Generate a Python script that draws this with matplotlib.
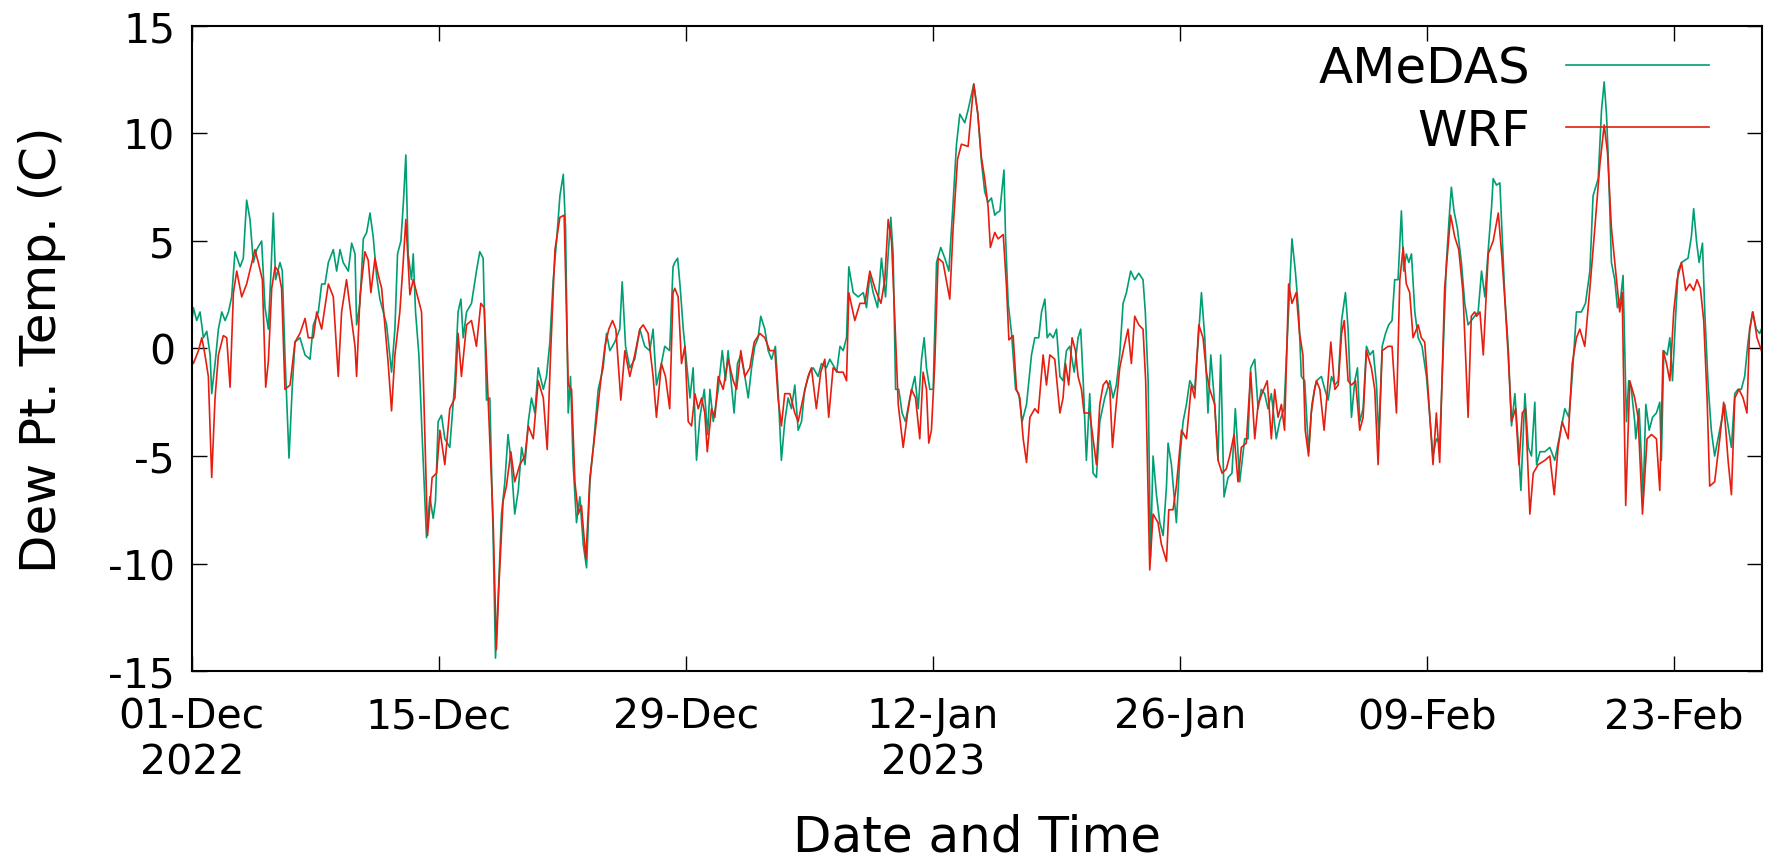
import numpy as np
import pandas as pd
import matplotlib
matplotlib.use("Agg")
import matplotlib.pyplot as plt

# === Données (jours depuis le 01-Dec-2022 00:00, point de rosée en °C) ===
START = pd.Timestamp("2022-12-01 00:00")
END_DAYS = 88.958  # dernier pas horaire : 27-Feb 23:00

amedas_day = [
    0.00, 0.09, 0.28, 0.47, 0.66, 0.85, 1.04, 1.13, 1.32, 1.51, 1.70, 1.89, 2.08, 2.26, 2.45, 2.74, 2.92, 3.11, 3.30, 3.49, 3.68, 3.96, 4.15, 4.34, 4.49, 4.62, 4.75, 5.00, 5.13, 5.28, 5.51, 5.70, 5.85, 6.13, 6.42, 6.70, 6.89, 7.17, 7.36, 7.55, 7.74, 8.02, 8.21, 8.40, 8.58, 8.87, 9.06, 9.25,
    9.34, 9.53, 9.72, 9.91, 10.10, 10.28, 10.47, 10.66, 10.85, 11.04, 11.32, 11.51, 11.66, 11.85, 12.00, 12.13, 12.26, 12.45, 12.55, 12.68, 12.87, 13.06, 13.30, 13.49, 13.68, 13.81, 13.96, 14.15, 14.34, 14.62, 14.91, 15.09, 15.25, 15.38, 15.57, 15.85, 16.13, 16.32, 16.51, 16.70, 16.89, 17.08, 17.21, 17.36, 17.55, 17.74, 17.92, 18.11, 18.30,
    18.50, 18.69, 18.88, 19.07, 19.25, 19.44, 19.63, 19.92, 20.10, 20.29, 20.48, 20.67, 20.86, 21.05, 21.18, 21.33, 21.46, 21.61, 21.80, 21.99, 22.18, 22.37, 22.56, 22.75, 23.03, 23.31, 23.50, 23.69, 23.97, 24.25, 24.39, 24.58, 24.82, 25.10, 25.39, 25.67, 25.95, 26.14, 26.33, 26.61, 26.80, 27.08, 27.27, 27.37,
    27.53, 27.66, 27.85, 28.04, 28.23, 28.41, 28.60, 28.79, 29.04, 29.23, 29.36, 29.55, 29.83, 30.06, 30.24, 30.39, 30.58, 30.73, 30.92, 31.11, 31.34, 31.53, 31.72, 31.90, 32.09, 32.24, 32.47, 32.66, 32.85, 33.07, 33.22, 33.41, 33.60, 33.79, 33.98, 34.17, 34.36, 34.55, 34.73, 35.02, 35.21, 35.49, 35.68, 35.96, 36.15, 36.43,
    36.54, 36.73, 36.91, 37.10, 37.23, 37.48, 37.76, 38.05, 38.23, 38.42, 38.61, 38.86, 39.08, 39.31, 39.46, 39.61, 39.74, 39.88, 40.06, 40.25, 40.44, 40.69, 40.97, 41.16, 41.35, 41.50, 41.63, 41.82, 42.01, 42.20, 42.44, 42.67, 42.90, 43.14, 43.33, 43.52, 43.80, 43.99, 44.31, 44.54, 44.74, 44.93, 45.12, 45.31, 45.50,
    45.60, 45.79, 46.02, 46.11, 46.26, 46.45, 46.68, 46.86, 47.05, 47.30, 47.58, 47.77, 47.99, 48.15, 48.34, 48.47, 48.62, 48.81, 49.00, 49.19, 49.37, 49.56, 49.75, 50.00, 50.22, 50.37, 50.51, 50.69, 50.88, 51.07, 51.26, 51.45, 51.73, 52.02, 52.20, 52.39, 52.58, 52.77, 52.96, 53.20, 53.43, 53.66, 53.90, 54.03, 54.19, 54.32, 54.47,
    54.66, 54.85, 55.04, 55.23, 55.32, 55.51, 55.79, 55.98, 56.17, 56.36, 56.55, 56.83, 57.02, 57.21, 57.40, 57.58, 57.74, 57.96, 58.15, 58.30, 58.49, 58.72, 58.94, 59.13, 59.38, 59.66, 59.85, 60.00, 60.23, 60.42, 60.60, 60.79, 60.98, 61.17, 61.45, 61.64, 61.89, 62.08, 62.34, 62.53, 62.72, 62.87, 63.06, 63.28, 63.47, 63.62,
    63.73, 64.01, 64.20, 64.39, 64.58, 64.77, 64.96, 65.15, 65.37, 65.52, 65.71, 65.90, 66.05, 66.18, 66.37, 66.56, 66.75, 66.94, 67.13, 67.26, 67.45, 67.64, 67.82, 68.01, 68.16, 68.35, 68.54, 68.67, 68.82, 68.96, 69.11, 69.30, 69.49, 69.71, 69.96, 70.15, 70.33, 70.52, 70.71, 70.90, 71.09, 71.24, 71.37, 71.52, 71.71, 71.94, 72.13, 72.32, 72.50, 72.69,
    72.89, 73.08, 73.27, 73.46, 73.65, 73.74, 73.93, 74.12, 74.25, 74.40, 74.59, 74.78, 74.97, 75.16, 75.31, 75.54, 75.73, 75.91, 76.10, 76.20, 76.39, 76.67, 76.95, 77.23, 77.52, 77.80, 78.03, 78.22, 78.46, 78.74, 78.97, 79.22, 79.40, 79.69, 79.88, 80.03, 80.16, 80.25, 80.44, 80.63, 80.78, 80.97, 81.10, 81.29, 81.42, 81.57, 81.76,
    81.82, 82.01, 82.24, 82.39, 82.58, 82.77, 82.99, 83.18, 83.27, 83.41, 83.60, 83.75, 83.90, 84.09, 84.22, 84.41, 84.60, 84.78, 84.97, 85.10, 85.26, 85.41, 85.60, 85.73, 85.92, 86.10, 86.29, 86.48, 86.67, 86.86, 87.05, 87.24, 87.43, 87.61, 87.80, 87.99, 88.18, 88.43, 88.65, 88.84, 88.94,
]
amedas_dpt = [
    1.2, 1.9, 1.3, 1.7, 0.5, 0.8, -0.3, -2.1, -0.7, 0.9, 1.7, 1.3, 1.7, 2.4, 4.5, 3.8, 4.2, 6.9, 6.0, 4.0, 4.6, 5.0, 1.9, 0.9, 3.6, 6.3, 3.2, 4.0, 3.6, -0.3, -5.1, -1.7, 0.3, 0.5, -0.3, -0.5, 1.1, 1.7, 3.0, 3.0, 4.0, 4.6, 3.6, 4.6, 4.0, 3.6, 4.9, 4.4,
    1.1, 2.1, 5.1, 5.4, 6.3, 5.2, 3.4, 2.3, 1.7, 1.1, -1.1, 0.9, 4.4, 5.0, 6.9, 9.0, 4.4, 3.2, 4.4, 1.7, -0.3, -4.2, -8.8, -6.9, -7.9, -7.1, -3.4, -3.1, -4.2, -4.6, -1.5, 1.7, 2.3, 0.5, 1.7, 2.1, 3.6, 4.5, 4.2, -2.4, -2.3, -8.9, -14.4, -11.6, -7.7, -6.2, -4.0, -5.4, -7.7,
    -6.6, -4.6, -5.4, -3.4, -2.3, -3.0, -0.9, -1.9, -1.3, 0.3, 3.2, 5.0, 7.1, 8.1, 5.6, -3.0, -1.3, -5.4, -8.1, -6.9, -9.1, -10.2, -6.2, -4.6, -1.9, -0.9, 0.7, -0.1, 0.3, 0.9, 3.1, 0.1, -0.9, -0.5, 0.9, 0.1, -0.1, 0.9, -1.7, -0.7, 0.1, -0.1, 3.8, 4.0,
    4.2, 3.0, 0.9, -0.7, -2.3, -0.9, -5.2, -3.2, -1.9, -4.0, -1.9, -3.4, -1.9, -0.1, -1.5, -0.1, -1.7, -3.0, -0.7, -0.3, -1.3, -2.3, -0.9, 0.1, 0.5, 1.5, 0.9, -0.1, -0.5, 0.1, -1.9, -5.2, -3.4, -2.3, -2.8, -1.7, -3.8, -3.4, -1.9, -1.1, -0.9, -1.3, -0.7, -0.9, -0.5, -0.9,
    -1.1, 0.1, -0.1, 0.5, 3.8, 2.6, 2.4, 2.6, 1.9, 3.4, 2.6, 1.9, 4.2, 2.4, 4.4, 6.1, 4.4, -1.9, -1.9, -3.0, -3.4, -2.3, -1.3, -2.8, -0.5, 0.5, -0.9, -1.9, -1.9, 4.0, 4.7, 4.2, 3.6, 6.8, 9.5, 10.9, 10.5, 11.1, 12.3, 10.9, 8.7, 7.3, 6.8, 7.0, 6.2,
    6.3, 6.4, 8.3, 5.2, 2.1, 0.7, -1.9, -2.1, -3.4, -2.6, -0.3, 0.5, 0.5, 1.7, 2.3, 0.5, 0.7, 0.5, 0.9, -1.3, -1.5, -0.1, 0.1, -1.1, 0.5, 0.9, -1.5, -5.2, -2.1, -5.8, -6.0, -3.4, -2.3, -1.5, -2.3, -1.7, -0.3, 2.1, 2.6, 3.6, 3.2, 3.5, 3.2, 1.7, -1.5, -9.7, -5.0,
    -6.8, -8.1, -8.7, -6.4, -4.4, -5.4, -8.1, -5.2, -3.4, -2.6, -1.5, -1.9, 0.3, 2.6, 0.5, -3.0, -0.3, -2.6, -5.2, -0.3, -6.9, -6.0, -5.8, -2.8, -6.2, -4.2, -4.2, -0.9, -0.5, -2.8, -1.9, -2.1, -2.8, -2.1, -4.2, -3.4, -2.8, 0.5, 5.1, 3.6, 1.7, -1.3, -1.5, -4.8, -2.6, -1.9,
    -1.5, -1.3, -1.9, -2.4, -1.3, -1.7, -1.5, 1.3, 2.6, 0.9, -3.2, -1.5, -0.9, -3.4, -2.8, 0.1, -0.3, -0.1, -1.7, -4.2, 0.1, 0.7, 1.1, 1.3, 3.2, 3.2, 6.4, 3.6, 4.4, 4.0, 4.4, 1.7, 0.5, 0.1, -1.3, -3.2, -5.0, -4.2, -4.4, -0.3, 4.0, 6.0, 7.5, 6.4, 5.6, 4.0, 2.1, 1.1, 1.3, 1.5,
    1.7, 3.6, 2.4, 4.6, 6.6, 7.9, 7.6, 7.7, 5.2, 2.4, 0.1, -3.6, -2.1, -4.4, -6.6, -2.1, -4.6, -5.0, -2.5, -5.4, -4.8, -4.8, -4.6, -5.2, -4.0, -2.8, -3.2, -1.3, 1.7, 1.7, 2.1, 3.6, 7.1, 7.9, 11.1, 12.4, 10.9, 9.1, 4.0, 3.2, 1.9, 2.4, 3.4, -3.4, -1.5, -1.9, -3.4,
    -4.2, -2.8, -6.9, -2.6, -3.8, -3.2, -3.0, -2.5, -5.2, -0.1, -0.3, 0.5, -1.5, 1.7, 3.6, 4.0, 4.1, 4.2, 5.2, 6.5, 5.0, 4.0, 4.9, 1.7, -1.7, -3.8, -5.0, -4.2, -3.4, -2.6, -3.6, -4.6, -2.1, -1.9, -1.9, -1.3, 0.3, 1.7, 0.9, 0.7, 0.9,
]

wrf_day = [
    0.00, 0.09, 0.38, 0.57, 0.75, 0.94, 1.13, 1.32, 1.51, 1.79, 1.98, 2.17, 2.36, 2.55, 2.83, 3.11, 3.40, 3.58, 3.77, 4.00, 4.19, 4.34, 4.53, 4.72, 4.91, 5.09, 5.28, 5.57, 5.85, 6.13, 6.42, 6.60, 6.89, 7.08, 7.36, 7.74, 8.02, 8.30, 8.49, 8.77, 9.06, 9.25,
    9.34, 9.53, 9.81, 10.00, 10.15, 10.38, 10.57, 10.76, 10.94, 11.13, 11.32, 11.51, 11.79, 11.98, 12.13, 12.36, 12.55, 12.74, 13.02, 13.21, 13.36, 13.62, 13.87, 14.06, 14.34, 14.62, 14.91, 15.09, 15.28, 15.57, 15.85, 16.13, 16.38, 16.57, 16.79, 17.08, 17.26, 17.40, 17.64, 17.83, 18.08, 18.30,
    18.59, 18.88, 19.07, 19.35, 19.63, 19.92, 20.14, 20.33, 20.58, 20.86, 21.10, 21.33, 21.52, 21.71, 21.90, 22.08, 22.33, 22.56, 22.84, 23.12, 23.41, 23.63, 23.84, 24.03, 24.31, 24.54, 24.82, 25.10, 25.39, 25.58, 25.86, 26.14, 26.33, 26.61, 26.84, 27.08, 27.27, 27.37,
    27.56, 27.75, 27.94, 28.13, 28.32, 28.51, 28.70, 28.89, 29.07, 29.21, 29.45, 29.64, 29.83, 30.11, 30.39, 30.68, 30.87, 31.11, 31.34, 31.62, 31.87, 32.19, 32.47, 32.75, 33.04, 33.22, 33.41, 33.60, 33.89, 34.17, 34.36, 34.64, 34.92, 35.11, 35.39, 35.64, 35.87, 36.09, 36.34,
    36.63, 36.91, 37.10, 37.23, 37.57, 37.86, 38.14, 38.42, 38.71, 39.05, 39.27, 39.46, 39.65, 39.84, 40.03, 40.31, 40.56, 40.78, 41.01, 41.25, 41.44, 41.63, 41.76, 41.91, 42.10, 42.29, 42.57, 42.95, 43.14, 43.39, 43.61, 43.99, 44.31, 44.54, 44.74, 44.93, 45.12, 45.25, 45.50,
    45.69, 45.98, 46.17, 46.30, 46.54, 46.73, 46.92, 47.11, 47.30, 47.49, 47.77, 47.96, 48.24, 48.43, 48.62, 48.90, 49.19, 49.37, 49.51, 49.69, 49.88, 50.07, 50.22, 50.41, 50.56, 50.88, 51.07, 51.26, 51.45, 51.64, 51.83, 52.02, 52.17, 52.36, 52.58, 52.83, 53.05, 53.24, 53.43, 53.66, 53.90, 54.05, 54.28, 54.47,
    54.75, 54.94, 55.23, 55.36, 55.60, 55.79, 56.08, 56.36, 56.64, 56.83, 57.06, 57.30, 57.49, 57.68, 57.96, 58.15, 58.38, 58.62, 58.81, 59.06, 59.28, 59.47, 59.75, 60.00, 60.23, 60.42, 60.64, 60.94, 61.17, 61.36, 61.55, 61.74, 61.92, 62.15, 62.34, 62.58, 62.77, 62.96, 63.09, 63.28, 63.43, 63.62,
    63.73, 63.92, 64.16, 64.35, 64.54, 64.77, 64.96, 65.15, 65.30, 65.52, 65.71, 65.94, 66.18, 66.37, 66.56, 66.84, 67.03, 67.22, 67.45, 67.79, 68.01, 68.26, 68.45, 68.64, 68.82, 69.01, 69.20, 69.49, 69.67, 69.86, 70.05, 70.33, 70.52, 70.71, 70.99, 71.33, 71.56, 71.79, 72.03, 72.32, 72.50, 72.69,
    72.80, 72.99, 73.18, 73.46, 73.74, 74.03, 74.22, 74.40, 74.59, 74.78, 75.01, 75.20, 75.39, 75.57, 75.82, 76.01, 76.29, 76.67, 76.95, 77.20, 77.42, 77.65, 77.99, 78.22, 78.46, 78.65, 78.93, 79.22, 79.50, 79.78, 80.03, 80.22, 80.44, 80.73, 80.91, 81.05, 81.25, 81.48, 81.76,
    81.95, 82.20, 82.46, 82.71, 82.99, 83.18, 83.37, 83.56, 83.75, 83.97, 84.16, 84.41, 84.65, 84.88, 85.10, 85.29, 85.48, 85.67, 85.86, 86.01, 86.29, 86.58, 86.80, 87.05, 87.24, 87.43, 87.67, 87.90, 88.12, 88.27, 88.46, 88.69, 88.94,
]
wrf_dpt = [
    -0.5, -0.7, -0.1, 0.5, -0.3, -1.3, -6.0, -2.3, -0.3, 0.6, 0.5, -1.8, 2.6, 3.6, 2.4, 3.0, 4.0, 4.6, 4.0, 3.2, -1.8, -0.6, 2.8, 3.8, 3.6, 2.8, -1.9, -1.7, 0.3, 0.7, 1.4, 0.5, 0.5, 1.7, 0.9, 3.0, 2.4, -1.3, 1.7, 3.2, 1.3, 0.1,
    -1.3, 2.4, 4.5, 4.1, 2.6, 4.2, 3.4, 2.8, 1.1, -0.7, -2.9, -0.3, 1.7, 4.0, 6.0, 2.5, 3.2, 2.6, 1.7, -4.2, -8.7, -6.0, -5.8, -3.8, -5.4, -2.8, -2.3, 0.7, -1.3, 1.1, 1.3, 0.1, 2.1, 1.9, -2.3, -8.1, -14.0, -11.1, -7.1, -6.4, -4.8, -6.2,
    -5.4, -5.0, -3.6, -4.2, -1.5, -2.3, -4.7, -0.3, 4.6, 6.1, 6.2, -1.7, -1.9, -6.2, -7.7, -7.3, -9.8, -6.0, -4.0, -1.9, 0.1, 0.9, 1.3, 0.9, -2.4, -0.1, -1.3, -0.3, 0.9, 1.1, 0.7, -1.3, -3.2, -0.7, -1.3, -2.8, 2.6, 2.8,
    2.4, -0.7, 0.1, -3.4, -3.6, -2.1, -2.8, -2.3, -3.0, -4.8, -2.8, -3.2, -1.3, -1.9, -0.5, -1.5, -1.9, -0.1, -1.3, -0.9, 0.3, 0.7, 0.5, -0.1, -0.1, -2.3, -3.6, -2.1, -2.1, -3.0, -3.4, -2.3, -1.3, -0.9, -2.8, -1.1, -0.5, -3.2, -0.9,
    -1.1, -1.1, -1.5, 2.6, 1.3, 2.1, 2.1, 3.6, 2.8, 2.1, 3.2, 6.0, 5.0, 1.3, -2.6, -4.6, -3.0, -1.9, -2.3, -4.2, -1.1, -1.9, -4.4, -3.8, -0.7, 4.2, 4.0, 2.3, 5.6, 8.8, 9.5, 9.4, 12.3, 10.9, 8.9, 7.9, 6.6, 4.7, 5.4,
    5.1, 5.3, 2.8, 0.4, 0.6, -1.9, -2.3, -4.2, -5.3, -3.2, -2.8, -3.0, -0.3, -1.7, -0.3, -0.5, -3.0, -2.3, -0.7, -1.7, 0.5, -0.1, -1.3, -1.9, -3.0, -3.0, -4.2, -5.4, -2.6, -1.7, -1.5, -1.9, -4.6, -2.8, -0.9, 0.1, 0.9, -0.7, 1.5, 1.1, 0.9, -1.5, -10.3, -7.7,
    -8.1, -9.1, -9.9, -7.5, -7.5, -6.4, -3.8, -4.2, -1.7, -2.3, 1.1, 0.5, -1.1, -1.9, -2.6, -5.2, -5.8, -5.6, -5.0, -4.0, -6.2, -4.6, -4.4, -1.1, -4.2, -2.6, -2.1, -1.5, -4.2, -1.9, -3.2, -2.6, -3.8, 3.0, 2.1, 2.6, 0.7, -0.3, -3.8, -5.0, -3.0, -1.9,
    -1.5, -1.9, -3.8, -1.9, 0.3, -1.9, -1.7, 0.7, 1.3, -1.5, -1.7, -1.5, -3.8, -3.2, -0.1, -0.9, -1.9, -5.4, -0.1, 0.1, 0.1, -3.0, 3.2, 4.7, 3.0, 2.6, 0.5, 1.1, 0.5, 0.3, -1.9, -5.4, -3.0, -5.3, 2.8, 6.2, 5.2, 4.6, 2.6, -3.2, 1.5, 1.7,
    1.5, 1.7, -0.3, 4.4, 5.0, 6.3, 4.4, 2.3, -0.3, -3.4, -2.8, -5.4, -3.0, -2.8, -7.7, -5.8, -5.4, -5.2, -5.0, -6.8, -4.6, -3.4, -4.2, -0.7, 0.5, 0.9, 0.1, 2.8, 5.6, 8.5, 10.4, 9.1, 5.6, 3.2, 1.7, 2.6, -7.3, -1.5, -2.3,
    -3.2, -7.7, -4.2, -4.0, -4.2, -6.6, -0.1, -0.7, -1.5, 1.7, 3.2, 4.0, 2.7, 3.0, 2.7, 3.2, 2.8, 1.3, -2.3, -6.4, -6.2, -4.2, -2.5, -5.2, -6.8, -2.3, -1.9, -2.3, -3.0, 0.9, 1.7, 0.5, -0.1,
]

tick_labels = ["01-Dec\n2022", "15-Dec", "29-Dec", "12-Jan\n2023", "26-Jan", "09-Feb", "23-Feb"]
TICK_STEP_DAYS = 14

GREEN = "#009e73"
RED = "#e51e10"


def to_time(days):
    """Convertit des jours écoulés en horodatages."""
    return START + pd.to_timedelta(np.asarray(days), unit="D")


plt.rcParams["axes.unicode_minus"] = False
plt.rcParams["font.family"] = "DejaVu Sans"

fig = plt.figure(figsize=(17.69, 8.62), dpi=100)
ax = fig.add_axes([0.1084, 0.2204, 0.8875, 0.7483])

ax.plot(to_time(amedas_day), amedas_dpt, color=GREEN, lw=1.2, label="AMeDAS")
ax.plot(to_time(wrf_day), wrf_dpt, color=RED, lw=1.2, label="WRF")

# --- Axes ---
ax.set_xlim(START, to_time([END_DAYS])[0])
ax.set_ylim(-15, 15)
ax.set_yticks(range(-15, 16, 5))
ax.set_xticks(to_time([TICK_STEP_DAYS * k for k in range(len(tick_labels))]))
ax.set_xticklabels(tick_labels)
ax.tick_params(direction="in", length=11, width=1, top=True, right=True,
               labelsize=29.5, color="black")
ax.tick_params(axis="y", pad=12)
ax.tick_params(axis="x", pad=18)
for s in ax.spines.values():
    s.set_linewidth(1.5)

ax.set_xlabel("Date and Time", fontsize=36, va="center")
ax.xaxis.set_label_coords(0.5, -0.256)
ax.set_ylabel("Dew Pt. Temp. (C)", fontsize=36, va="center")
ax.yaxis.set_label_coords(-0.0954, 0.5)

# --- Légende ---
ax.legend(loc="upper right", bbox_to_anchor=(0.9664, 0.971), frameon=False,
          markerfirst=False, fontsize=36, handlelength=2.86, handletextpad=0.72,
          labelspacing=0.28, borderpad=0, borderaxespad=0)

fig.savefig("out.png", dpi=100)
